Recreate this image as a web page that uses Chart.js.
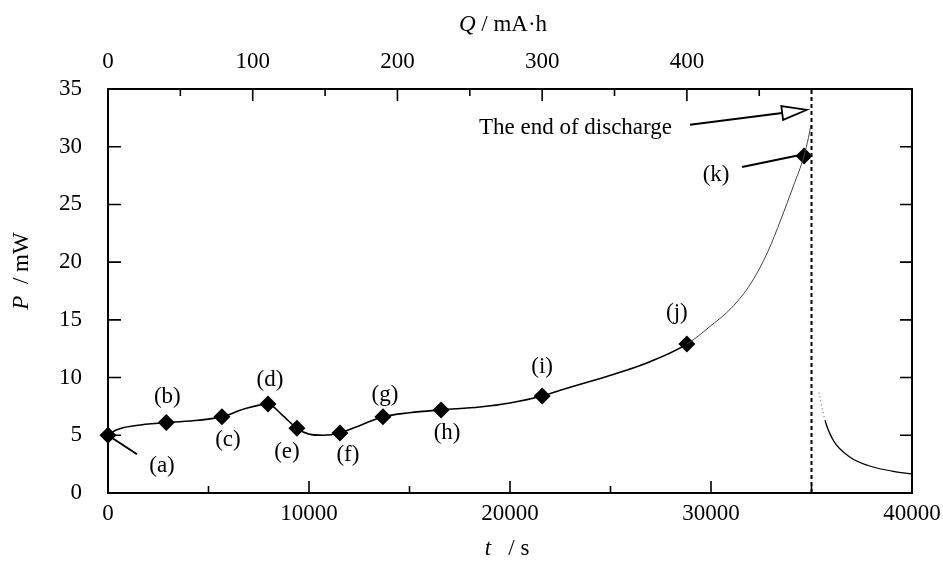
<!DOCTYPE html>
<html>
<head>
<meta charset="utf-8">
<script src="https://cdn.jsdelivr.net/npm/chart.js@4.4.1/dist/chart.umd.min.js"></script>
<style>
  html, body { margin: 0; padding: 0; background: #fff; }
  #wrap { width: 943px; height: 561px; }
</style>
</head>
<body>
<div id="wrap"><canvas id="c" width="943" height="561"></canvas></div>
<script>
// Power delivered during discharge, t in s, P in mW
const curveT = [0, 400, 1400, 2900, 4500, 5670, 6800, 7960, 8700, 9400, 10000, 10700, 11540, 12600, 13680, 15000, 16570, 18500, 20000, 21600, 22500, 25000, 27000, 28800, 30000, 31000, 32000, 32800, 33500, 34100, 34630, 34850, 34960];
const curveP = [5.0, 5.45, 5.85, 6.1, 6.3, 6.6, 7.3, 7.7, 6.7, 5.6, 5.1, 5.0, 5.2, 5.9, 6.6, 6.95, 7.2, 7.45, 7.8, 8.4, 8.9, 10.2, 11.4, 12.9, 14.5, 16.0, 18.2, 20.8, 23.8, 26.6, 29.2, 30.8, 31.8];

// Relaxation after the end of discharge
const restT = [35370, 35670, 36070, 36920, 38060, 39000, 40000];
const restP = [8.7, 6.3, 4.6, 3.1, 2.25, 1.9, 1.65];

// Sampled states (a)-(k)
const markT = [0, 2900, 5670, 7960, 9400, 11540, 13680, 16570, 21600, 28800, 34630];
const markP = [5.0, 6.1, 6.6, 7.7, 5.6, 5.2, 6.6, 7.2, 8.4, 12.9, 29.2];
const markLabels = ['(a)', '(b)', '(c)', '(d)', '(e)', '(f)', '(g)', '(h)', '(i)', '(j)', '(k)'];

// End of discharge
const endT = 35000;

// Axis ticks
const tMajor = [0, 10000, 20000, 30000, 40000];
const tMinor = [5000, 15000, 25000, 35000];
const pTicks = [0, 5, 10, 15, 20, 25, 30, 35];
const qMajor = [0, 100, 200, 300, 400];
const qMinor = [50, 150, 250, 350, 450];

// Capacity scale: constant 50 mA current, Q = I·t / 3600
const currentMA = 50;
const tMax = 40000;
const qMax = tMax * currentMA / 3600;

const FONT = '"Liberation Serif", "Times New Roman", serif';
const FS = 23;

// label placement (pixel offsets from each marker)
const labelOffsets = [[54, 31], [1, -26], [6, 23], [2, -24], [-10, 24], [8, 22], [2, -22], [6, 23], [0, -29], [-10, -31], [-88, 19]];

const decor = {
  id: 'decor',
  afterDraw(chart) {
    const { ctx, chartArea: a, scales } = chart;
    const x = scales.x, y = scales.y, q = scales.q;
    ctx.save();
    ctx.strokeStyle = '#000';
    ctx.fillStyle = '#000';

    // frame
    ctx.lineWidth = 2;
    ctx.strokeRect(a.left, a.top, a.right - a.left, a.bottom - a.top);

    // inward ticks
    ctx.lineWidth = 1.6;
    ctx.beginPath();
    tMajor.forEach(v => { const p = x.getPixelForValue(v); ctx.moveTo(p, a.bottom); ctx.lineTo(p, a.bottom - 12); });
    tMinor.forEach(v => { const p = x.getPixelForValue(v); ctx.moveTo(p, a.bottom); ctx.lineTo(p, a.bottom - 7); });
    qMajor.forEach(v => { const p = q.getPixelForValue(v); ctx.moveTo(p, a.top); ctx.lineTo(p, a.top + 12); });
    qMinor.forEach(v => { const p = q.getPixelForValue(v); ctx.moveTo(p, a.top); ctx.lineTo(p, a.top + 7); });
    pTicks.slice(1, -1).forEach(v => {
      const p = y.getPixelForValue(v);
      ctx.moveTo(a.left, p); ctx.lineTo(a.left + 13, p);
      ctx.moveTo(a.right, p); ctx.lineTo(a.right - 12, p);
    });
    ctx.stroke();

    // axis titles
    ctx.textBaseline = 'middle';
    const drawTitle = (italic, rest, cx, cy) => {
      ctx.font = 'italic ' + FS + 'px ' + FONT;
      const w1 = ctx.measureText(italic).width;
      ctx.font = FS + 'px ' + FONT;
      const w2 = ctx.measureText(rest).width;
      const x0 = cx - (w1 + w2) / 2;
      ctx.textAlign = 'left';
      ctx.font = 'italic ' + FS + 'px ' + FONT;
      ctx.fillText(italic, x0, cy);
      ctx.font = FS + 'px ' + FONT;
      ctx.fillText(rest, x0 + w1, cy);
    };
    drawTitle('Q', ' / mA\u00B7h', 503, 25);
    drawTitle('t', '   / s', 507, 549);
    ctx.save();
    ctx.translate(22, 271);
    ctx.rotate(-Math.PI / 2);
    drawTitle('P', '  / mW', 0, 0);
    ctx.restore();

    // point labels
    ctx.font = FS + 'px ' + FONT;
    ctx.textAlign = 'center';
    ctx.textBaseline = 'middle';
    const pts = markT.map((t, i) => [x.getPixelForValue(t), y.getPixelForValue(markP[i])]);
    markLabels.forEach((s, i) => {
      const [dx, dy] = labelOffsets[i];
      ctx.fillText(s, pts[i][0] + dx, pts[i][1] + dy);
    });

    // leader lines for (a) and (k)
    ctx.lineWidth = 2;
    ctx.beginPath();
    ctx.moveTo(pts[0][0], pts[0][1]);
    ctx.lineTo(pts[0][0] + 29, pts[0][1] + 19);
    ctx.moveTo(pts[10][0] - 62, pts[10][1] + 11);
    ctx.lineTo(pts[10][0] - 4, pts[10][1] - 1);
    ctx.stroke();

    // end-of-discharge note with open arrow
    const tx = x.getPixelForValue(28060), ty = y.getPixelForValue(31.6);
    ctx.textAlign = 'right';
    ctx.fillText('The end of discharge', tx, ty);
    const x1 = x.getPixelForValue(28955), y1 = y.getPixelForValue(31.9);
    const x2 = x.getPixelForValue(34776), y2 = y.getPixelForValue(33.2);
    const ang = Math.atan2(y2 - y1, x2 - x1);
    const hl = 25, hw = 7;
    const bx = x2 - hl * Math.cos(ang), by = y2 - hl * Math.sin(ang);
    ctx.beginPath();
    ctx.moveTo(x1, y1);
    ctx.lineTo(bx, by);
    ctx.stroke();
    ctx.lineWidth = 1.8;
    ctx.beginPath();
    ctx.moveTo(x2, y2);
    ctx.lineTo(bx + hw * Math.sin(ang), by - hw * Math.cos(ang));
    ctx.lineTo(bx - hw * Math.sin(ang), by + hw * Math.cos(ang));
    ctx.closePath();
    ctx.fillStyle = '#fff';
    ctx.fill();
    ctx.stroke();
    ctx.restore();
  }
};

const tickFont = { family: FONT, size: FS };
const plain = v => String(v);

new Chart(document.getElementById('c'), {
  type: 'scatter',
  data: {
    datasets: [
      {
        data: curveT.map((t, i) => ({ x: t, y: curveP[i] })),
        showLine: true,
        borderColor: '#000',
        borderWidth: 1.6,
        pointRadius: 0,
        cubicInterpolationMode: 'monotone',
        segment: {
          borderWidth: c => c.p0.parsed.x >= 28800 ? 1 : 1.6,
          borderColor: c => c.p0.parsed.x >= 28800 ? '#444' : '#000'
        }
      },
      {
        data: restT.map((t, i) => ({ x: t, y: restP[i] })),
        showLine: true,
        borderColor: '#000',
        borderWidth: 1.2,
        pointRadius: 0,
        cubicInterpolationMode: 'monotone',
        segment: {
          borderDash: c => c.p0DataIndex === 0 ? [1, 3] : undefined,
          borderColor: c => c.p0DataIndex === 0 ? '#777' : '#000'
        }
      },
      {
        data: [{ x: endT, y: 0 }, { x: endT, y: 35 }],
        showLine: true,
        borderColor: '#000',
        borderWidth: 2,
        borderDash: [4, 3],
        pointRadius: 0
      },
      {
        data: markT.map((t, i) => ({ x: t, y: markP[i] })),
        showLine: false,
        pointStyle: 'rectRot',
        pointRadius: 8.5,
        backgroundColor: '#000',
        borderColor: '#000',
        borderWidth: 0
      }
    ]
  },
  options: {
    responsive: false,
    devicePixelRatio: 1,
    animation: false,
    clip: false,
    layout: { padding: { left: 0, right: 31, top: 0, bottom: 0 } },
    plugins: { legend: { display: false }, tooltip: { enabled: false } },
    scales: {
      x: {
        type: 'linear', position: 'bottom', min: 0, max: tMax,
        afterBuildTicks: s => { s.ticks = tMajor.map(v => ({ value: v })); },
        ticks: { font: tickFont, color: '#000', padding: 7, maxRotation: 0, autoSkip: false, callback: plain },
        grid: { display: false, drawTicks: false },
        border: { display: false },
        afterFit: s => { s.height = 68; s.paddingRight = 0; }
      },
      q: {
        type: 'linear', position: 'top', min: 0, max: qMax,
        afterBuildTicks: s => { s.ticks = qMajor.map(v => ({ value: v })); },
        ticks: { font: tickFont, color: '#000', padding: 13, maxRotation: 0, autoSkip: false, callback: plain },
        grid: { display: false, drawTicks: false },
        border: { display: false },
        afterFit: s => { s.height = 89; s.paddingRight = 0; }
      },
      y: {
        type: 'linear', position: 'left', min: 0, max: 35,
        afterBuildTicks: s => { s.ticks = pTicks.map(v => ({ value: v })); },
        ticks: { font: tickFont, color: '#000', padding: 26, autoSkip: false, callback: plain },
        grid: { display: false, drawTicks: false },
        border: { display: false },
        afterFit: s => { s.width = 108; }
      }
    }
  },
  plugins: [decor]
});
</script>
</body>
</html>
